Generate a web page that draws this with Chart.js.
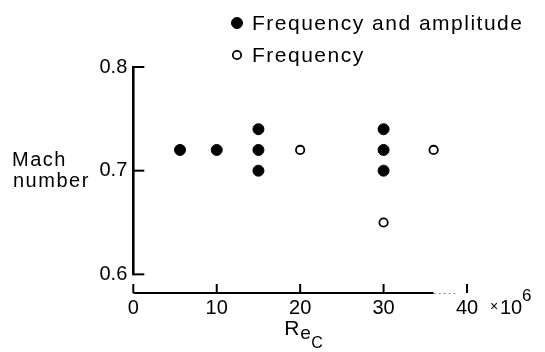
<!DOCTYPE html>
<html>
<head>
<meta charset="utf-8">
<script src="https://cdn.jsdelivr.net/npm/chart.js@4"></script>
<style>
  body { margin: 0; background: #fff; }
  #wrap { width: 545px; height: 352px; }
</style>
</head>
<body>
<div id="wrap"><canvas id="chart"></canvas></div>
<script>
// Reynolds number (x 10^6) vs Mach number
const ampX = [5.6, 10, 15, 15, 15, 30, 30, 30];
const ampY = [0.72, 0.72, 0.74, 0.72, 0.70, 0.74, 0.72, 0.70];
const freqX = [20, 30, 36];
const freqY = [0.72, 0.65, 0.72];
const xTicks = [0, 10, 20, 30, 40];
const yTicks = [0.6, 0.7, 0.8];
const seriesNames = ["Frequency and amplitude", "Frequency"];

const FONT = "'Liberation Sans', Arial, Helvetica, sans-serif";
Chart.defaults.font.family = FONT;
Chart.defaults.color = "#000";

function toPoints(xs, ys) {
  return xs.map((x, i) => ({ x, y: ys[i] }));
}

// axes drawn detached like the original: inward ticks, gaps at the corner
const axesPlugin = {
  id: "oldAxes",
  afterDraw(chart) {
    const { ctx } = chart;
    const xs = chart.scales.x;
    const ys = chart.scales.y;
    const x0 = xs.getPixelForValue(0);
    const yBottom = chart.chartArea.bottom;
    ctx.save();
    ctx.strokeStyle = "#000";
    ctx.lineCap = "butt";

    // y axis
    ctx.lineWidth = 2.6;
    ctx.beginPath();
    ctx.moveTo(x0, ys.getPixelForValue(0.8) - 1);
    ctx.lineTo(x0, ys.getPixelForValue(0.6) + 1);
    ctx.stroke();
    ctx.lineWidth = 2;
    yTicks.forEach((v) => {
      const py = ys.getPixelForValue(v);
      ctx.beginPath();
      ctx.moveTo(x0, py);
      ctx.lineTo(x0 + 11, py);
      ctx.stroke();
    });

    // x axis
    ctx.lineWidth = 2;
    ctx.beginPath();
    ctx.moveTo(x0, yBottom);
    ctx.lineTo(xs.getPixelForValue(36), yBottom);
    ctx.stroke();
    ctx.strokeStyle = "#888";
    ctx.lineWidth = 1;
    ctx.setLineDash([2, 3]);
    ctx.beginPath();
    ctx.moveTo(xs.getPixelForValue(36), yBottom + 0.5);
    ctx.lineTo(xs.getPixelForValue(38.6), yBottom + 0.5);
    ctx.stroke();
    ctx.setLineDash([]);
    ctx.strokeStyle = "#000";
    ctx.lineWidth = 2;
    xTicks.forEach((v) => {
      const px = xs.getPixelForValue(v);
      ctx.beginPath();
      ctx.moveTo(px, yBottom);
      ctx.lineTo(px, yBottom - 9);
      ctx.stroke();
    });

    ctx.fillStyle = "#000";
    ctx.textBaseline = "alphabetic";
    ctx.textAlign = "left";

    // "x 10^6" after the 40 label
    const p40 = xs.getPixelForValue(40);
    ctx.font = "14px " + FONT;
    ctx.fillText("×", p40 + 23, 311);
    ctx.font = "20px " + FONT;
    ctx.fillText("10", p40 + 33, 314);
    ctx.font = "17px " + FONT;
    ctx.fillText("6", p40 + 55, 301);

    // x title R_e_C
    const cx = (x0 + p40) / 2;
    ctx.font = "21px " + FONT;
    ctx.fillText("R", cx - 16, 335);
    ctx.font = "19px " + FONT;
    ctx.fillText("e", cx, 339);
    ctx.font = "16px " + FONT;
    ctx.fillText("C", cx + 11, 348);

    // y title, horizontal
    ctx.font = "20px " + FONT;
    ctx.letterSpacing = "1.5px";
    ctx.fillText("Mach", 12, 166);
    ctx.fillText("number", 13, 187);

    // legend
    const ds = chart.data.datasets;
    ctx.font = "21px " + FONT;
    ctx.letterSpacing = "1.5px";
    const rows = [23, 55];
    ds.forEach((d, i) => {
      const y = rows[i];
      ctx.beginPath();
      ctx.arc(237, y, d.pointRadius, 0, Math.PI * 2);
      ctx.fillStyle = d.pointBackgroundColor;
      ctx.fill();
      ctx.lineWidth = d.pointBorderWidth;
      ctx.strokeStyle = "#000";
      ctx.stroke();
      ctx.fillStyle = "#000";
      ctx.fillText(d.label, 252, y + 7);
    });
    ctx.restore();
  },
};

const config = {
  type: "scatter",
  data: {
    datasets: [
      {
        label: seriesNames[0],
        data: toPoints(ampX, ampY),
        pointRadius: 5.5,
        pointBackgroundColor: "#000",
        pointBorderColor: "#000",
        pointBorderWidth: 1,
      },
      {
        label: seriesNames[1],
        data: toPoints(freqX, freqY),
        pointRadius: 4.2,
        pointBackgroundColor: "#fff",
        pointBorderColor: "#000",
        pointBorderWidth: 1.8,
      },
    ],
  },
  options: {
    responsive: true,
    maintainAspectRatio: false,
    animation: false,
    layout: { padding: { left: 93.5, right: 78, top: 67, bottom: 29 } },
    plugins: { legend: { display: false }, tooltip: { enabled: false } },
    scales: {
      x: {
        type: "linear",
        min: 0,
        max: 40,
        afterBuildTicks: (s) => { s.ticks = xTicks.map((v) => ({ value: v })); },
        grid: { display: false, drawTicks: false },
        border: { display: false },
        ticks: { font: { size: 20 }, padding: 3, maxRotation: 0, autoSkip: false },
      },
      y: {
        min: 0.582,
        max: 0.8,
        afterBuildTicks: (s) => { s.ticks = yTicks.map((v) => ({ value: v })); },
        grid: { display: false, drawTicks: false },
        border: { display: false },
        ticks: { font: { size: 20 }, padding: 6, callback: (v) => v.toFixed(1) },
      },
    },
  },
  plugins: [axesPlugin],
};

new Chart(document.getElementById("chart").getContext("2d"), config);
</script>
</body>
</html>
